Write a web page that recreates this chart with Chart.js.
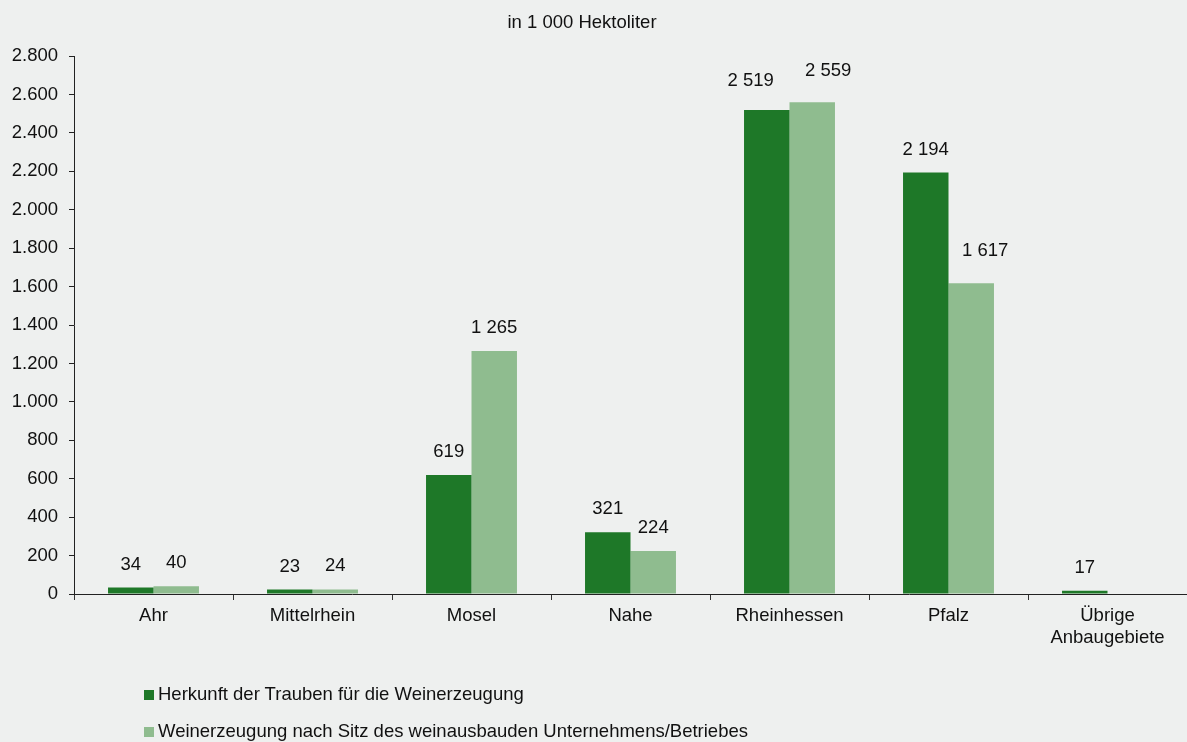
<!DOCTYPE html>
<html>
<head>
<meta charset="utf-8">
<script src="https://cdn.jsdelivr.net/npm/chart.js@4/dist/chart.umd.min.js"></script>
<style>
  html, body { margin: 0; padding: 0; background: #eef0ef; }
  #wrap { position: relative; width: 1187px; height: 742px; }
  canvas { position: absolute; left: 0; top: 0; }
  .legend { position: absolute; left: 144px; font-family: "Liberation Sans", Arial, sans-serif; font-size: 18.5px; color: #111; white-space: nowrap; }
  .legend span.box { display: inline-block; width: 10px; height: 10px; margin-right: 4px; vertical-align: 0px; }
</style>
</head>
<body>
<div id="wrap">
  <canvas id="c" width="1187" height="742"></canvas>
  <div class="legend" id="lg1" style="top:683px;"></div>
  <div class="legend" id="lg2" style="top:720px;"></div>
</div>
<script>
const categories = ["Ahr", "Mittelrhein", "Mosel", "Nahe", "Rheinhessen", "Pfalz", ["Übrige", "Anbaugebiete"]];
const seriesNames = ["Herkunft der Trauben für die Weinerzeugung", "Weinerzeugung nach Sitz des weinausbauden Unternehmens/Betriebes"];
const herkunft = [34, 23, 619, 321, 2519, 2194, 17];
const sitz = [40, 24, 1265, 224, 2559, 1617, null];
const yTicks = [0, 200, 400, 600, 800, 1000, 1200, 1400, 1600, 1800, 2000, 2200, 2400, 2600, 2800];
const titleText = "in 1 000 Hektoliter";

const colors = ["#1e7828", "#8fbc8f"];
const FONT = '"Liberation Sans", Arial, sans-serif';
const FS = 18.5;

// manual label nudges (styling only), keyed "dataset-index": [dx, dy]
const labelNudges = { "0-4": [-16, -6], "1-4": [16, -8], "1-5": [14, -9] };

function fmtSpace(v) { return String(v).replace(/\B(?=(\d{3})+(?!\d))/g, " "); }
function fmtDot(v) { return String(v).replace(/\B(?=(\d{3})+(?!\d))/g, "."); }

document.getElementById("lg1").innerHTML = '<span class="box" style="background:' + colors[0] + '"></span>' + seriesNames[0];
document.getElementById("lg2").innerHTML = '<span class="box" style="background:' + colors[1] + '"></span>' + seriesNames[1];

const labelPlugin = {
  id: "labels",
  afterDatasetsDraw(chart) {
    const ctx = chart.ctx;
    ctx.save();
    ctx.font = FS + "px " + FONT;
    ctx.fillStyle = "#111";
    ctx.textAlign = "center";
    ctx.textBaseline = "middle";
    chart.data.datasets.forEach((ds, i) => {
      const meta = chart.getDatasetMeta(i);
      meta.data.forEach((bar, j) => {
        const v = ds.data[j];
        if (v === null || v === undefined) return;
        const n = labelNudges[i + "-" + j] || [0, 0];
        ctx.fillText(fmtSpace(v), bar.x + n[0], bar.y - 23 + n[1]);
      });
    });
    ctx.fillText(titleText, 582, 23);
    ctx.restore();
  }
};

new Chart(document.getElementById("c"), {
  type: "bar",
  data: {
    labels: categories,
    datasets: [
      { label: seriesNames[0], data: herkunft, backgroundColor: colors[0], borderWidth: 0 },
      { label: seriesNames[1], data: sitz, backgroundColor: colors[1], borderWidth: 0 }
    ]
  },
  options: {
    responsive: false,
    animation: false,
    devicePixelRatio: 1,
    layout: { padding: { top: 56, bottom: 88, left: 0, right: 0 } },
    plugins: { legend: { display: false }, title: { display: false }, tooltip: { enabled: false } },
    datasets: { bar: { barPercentage: 1, categoryPercentage: 0.572 } },
    scales: {
      x: {
        grid: { display: true, drawOnChartArea: false, offset: true, tickLength: 6, color: "#333", tickColor: "#333" },
        border: { display: true, color: "#222", width: 1 },
        ticks: { color: "#111", font: { family: FONT, size: FS }, padding: 5, maxRotation: 0, autoSkip: false },
        afterFit(s) { s.height = 60; }
      },
      y: {
        min: 0, max: 2800,
        afterBuildTicks(s) { s.ticks = yTicks.map(v => ({ value: v })); },
        grid: { display: true, drawOnChartArea: false, tickLength: 5, color: "#222", tickColor: "#222" },
        border: { display: true, color: "#222", width: 1 },
        ticks: { color: "#111", font: { family: FONT, size: FS }, padding: 11, callback: v => fmtDot(v) },
        afterFit(s) { s.width = 74; }
      }
    }
  },
  plugins: [labelPlugin]
});
</script>
</body>
</html>
